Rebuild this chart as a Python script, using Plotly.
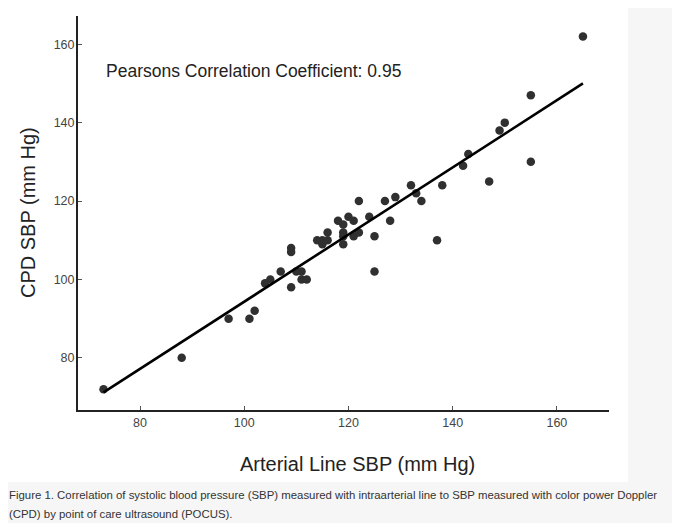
import plotly.graph_objects as go

# arterial line SBP vs CPD SBP
art_sbp = [73, 88, 97, 101, 102, 104, 105, 107, 109, 109, 109, 110, 111, 111, 112,
           114, 115, 115, 116, 116, 118, 119, 119, 119, 119, 120, 121, 121, 122, 122,
           124, 125, 125, 127, 128, 129, 132, 133, 134, 137, 138, 142, 143, 147, 149,
           150, 155, 155, 165]
cpd_sbp = [72, 80, 90, 90, 92, 99, 100, 102, 98, 108, 107, 102, 102, 100, 100,
           110, 110, 109, 110, 112, 115, 114, 112, 111, 109, 116, 115, 111, 120, 112,
           116, 111, 102, 120, 115, 121, 124, 122, 120, 110, 124, 129, 132, 125, 138,
           140, 147, 130, 162]

# regression line end points
fit_x = [73, 165]
fit_y = [71.2, 150.0]

x_ticks = [80, 100, 120, 140, 160]
y_ticks = [80, 100, 120, 140, 160]

x_title = "Arterial Line SBP (mm Hg)"
y_title = "CPD SBP (mm Hg)"
annot_text = "Pearsons Correlation Coefficient: 0.95"
caption_1 = ("Figure 1. Correlation of systolic blood pressure (SBP) measured with "
             "intraarterial line to SBP measured with color power Doppler")
caption_2 = "(CPD) by point of care ultrasound (POCUS)."

# page puts the plot 8px in from the corner, so size and place for that
OFF = 8
W, H = 680 - OFF, 523 - OFF
ml, mr, mt, mb = 78 - OFF, 71, 16 - OFF, 113
pw, ph = W - ml - mr, H - mt - mb


def px_x(p):
    return (p - OFF - ml) / pw


def px_y(p):
    return (H - mb - (p - OFF)) / ph


fig = go.Figure()

fig.add_trace(go.Scatter(
    x=art_sbp, y=cpd_sbp, mode="markers",
    marker=dict(size=8.5, color="#303030"),
    showlegend=False, hoverinfo="x+y"))

fig.add_trace(go.Scatter(
    x=fit_x, y=fit_y, mode="lines",
    line=dict(color="black", width=2.6),
    showlegend=False, hoverinfo="skip"))

axis_font = dict(family="Liberation Sans, Arial, sans-serif", size=12.5, color="#444444")

fig.update_layout(
    width=W, height=H,
    margin=dict(l=ml, r=mr, t=mt, b=mb),
    paper_bgcolor="#f6f6f6",
    plot_bgcolor="white",
    font=dict(family="Liberation Sans, Arial, sans-serif", color="#222222"),
    xaxis=dict(
        range=[68.1, 170], tickvals=x_ticks, showgrid=False, zeroline=False,
        showline=True, linecolor="#222222", linewidth=2,
        ticks="inside", ticklen=4, tickcolor="#555555", tickwidth=1,
        tickfont=axis_font, ticklabelstandoff=0),
    yaxis=dict(
        range=[66.7, 167.2], tickvals=y_ticks, showgrid=False, zeroline=False,
        showline=True, linecolor="#222222", linewidth=2,
        ticks="inside", ticklen=4, tickcolor="#555555", tickwidth=1,
        tickfont=axis_font, ticklabelstandoff=-1),
)

# white card behind the chart
fig.add_shape(type="rect", xref="paper", yref="paper", layer="below",
              x0=px_x(6), x1=px_x(628), y0=px_y(482), y1=px_y(7),
              fillcolor="white", line=dict(width=0))

fig.add_annotation(text=annot_text, xref="paper", yref="paper",
                   x=px_x(104), y=px_y(71), xanchor="left", yanchor="middle",
                   showarrow=False, font=dict(size=17.5, color="#222222"))

fig.add_annotation(text=x_title, xref="paper", yref="paper",
                   x=px_x(357), y=px_y(464), xanchor="center", yanchor="middle",
                   showarrow=False, font=dict(size=20, color="#222222"))
fig.add_annotation(text=y_title, xref="paper", yref="paper", textangle=-90,
                   x=px_x(28), y=px_y(213), xanchor="center", yanchor="middle",
                   showarrow=False, font=dict(size=20, color="#222222"))

cap_font = dict(family="Liberation Sans, Arial, sans-serif", size=11.4, color="#333333")
fig.add_annotation(text=caption_1, xref="paper", yref="paper",
                   x=px_x(7), y=px_y(495), xanchor="left", yanchor="middle",
                   showarrow=False, font=cap_font)
fig.add_annotation(text=caption_2, xref="paper", yref="paper",
                   x=px_x(7), y=px_y(514), xanchor="left", yanchor="middle",
                   showarrow=False, font=cap_font)

fig.write_html("out.html")
